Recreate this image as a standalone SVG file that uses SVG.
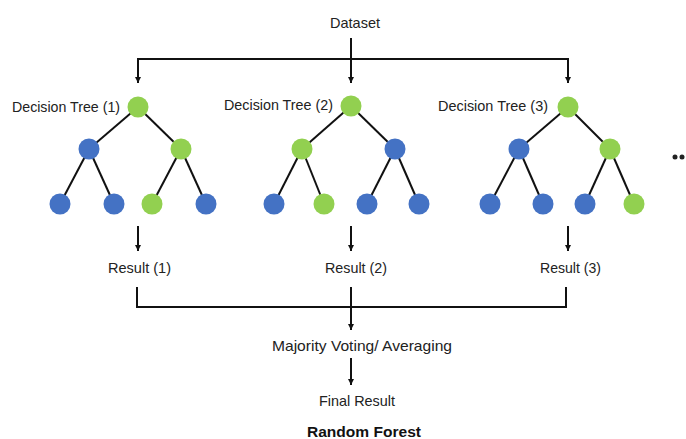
<svg xmlns="http://www.w3.org/2000/svg" width="686" height="439" viewBox="0 0 686 439">
<defs>
<marker id="ah" markerWidth="8" markerHeight="8" refX="6" refY="3" orient="auto" markerUnits="userSpaceOnUse">
<path d="M0,0 L6,3 L0,6 Z" fill="#111"/>
</marker>
<style>
text{font-family:"Liberation Sans",Arial,sans-serif;font-size:14.5px;fill:#222}
.b{font-weight:bold;font-size:14px;fill:#111}
.ln{stroke:#111;stroke-width:2;fill:none}
.e{stroke:#111;stroke-width:2}
.g{fill:#92d050}
.u{fill:#4472c4}
</style>
</defs>
<rect width="686" height="439" fill="#fff"/>
<g id="connectors">
<path class="ln" d="M351,38 V83" marker-end="url(#ah)"/>
<path class="ln" d="M138,83 V59 H568 V83" />
<path class="ln" d="M138,59 V83" marker-end="url(#ah)"/>
<path class="ln" d="M568,59 V83" marker-end="url(#ah)"/>
<path class="ln" d="M138,226 V251" marker-end="url(#ah)"/>
<path class="ln" d="M351,226 V251" marker-end="url(#ah)"/>
<path class="ln" d="M568,226 V251" marker-end="url(#ah)"/>
<path class="ln" d="M137,287 V307 H566 V287"/>
<path class="ln" d="M351,287 V330" marker-end="url(#ah)"/>
<path class="ln" d="M351,358 V385" marker-end="url(#ah)"/>
</g>
<g id="dataset"><text x="330" y="28" textLength="50" lengthAdjust="spacingAndGlyphs">Dataset</text></g>
<g id="tree1">
<text x="12" y="112" textLength="108" lengthAdjust="spacingAndGlyphs">Decision Tree (1)</text>
<g class="e"><line x1="138" y1="107" x2="89" y2="149"/><line x1="138" y1="107" x2="181" y2="149"/><line x1="89" y1="149" x2="60" y2="204"/><line x1="89" y1="149" x2="114" y2="204"/><line x1="181" y1="149" x2="152" y2="204"/><line x1="181" y1="149" x2="206" y2="204"/></g>
<circle class="g" cx="138" cy="107" r="10.5"/><circle class="u" cx="89" cy="149" r="10.5"/><circle class="g" cx="181" cy="149" r="10.5"/>
<circle class="u" cx="60" cy="204" r="10.5"/><circle class="u" cx="114" cy="204" r="10.5"/><circle class="g" cx="152" cy="204" r="10.5"/><circle class="u" cx="206" cy="204" r="10.5"/>
</g>
<g id="tree2">
<text x="224" y="110" textLength="109" lengthAdjust="spacingAndGlyphs">Decision Tree (2)</text>
<g class="e"><line x1="351" y1="106" x2="302" y2="149"/><line x1="351" y1="106" x2="395" y2="149"/><line x1="302" y1="149" x2="274" y2="204"/><line x1="302" y1="149" x2="324" y2="204"/><line x1="395" y1="149" x2="367" y2="204"/><line x1="395" y1="149" x2="419" y2="204"/></g>
<circle class="g" cx="351" cy="106" r="10.5"/><circle class="g" cx="302" cy="149" r="10.5"/><circle class="u" cx="395" cy="149" r="10.5"/>
<circle class="u" cx="274" cy="204" r="10.5"/><circle class="g" cx="324" cy="204" r="10.5"/><circle class="u" cx="367" cy="204" r="10.5"/><circle class="u" cx="419" cy="204" r="10.5"/>
</g>
<g id="tree3">
<text x="438" y="111" textLength="110" lengthAdjust="spacingAndGlyphs">Decision Tree (3)</text>
<g class="e"><line x1="568" y1="107" x2="519" y2="149"/><line x1="568" y1="107" x2="610" y2="149"/><line x1="519" y1="149" x2="490" y2="204"/><line x1="519" y1="149" x2="543" y2="204"/><line x1="610" y1="149" x2="585" y2="204"/><line x1="610" y1="149" x2="634" y2="204"/></g>
<circle class="g" cx="568" cy="107" r="10.5"/><circle class="u" cx="519" cy="149" r="10.5"/><circle class="g" cx="610" cy="149" r="10.5"/>
<circle class="u" cx="490" cy="204" r="10.5"/><circle class="u" cx="543" cy="204" r="10.5"/><circle class="u" cx="585" cy="204" r="10.5"/><circle class="g" cx="634" cy="204" r="10.5"/>
</g>
<g id="ellipsis"><circle cx="675" cy="157" r="2.5" fill="#222"/><circle cx="682" cy="157" r="2.5" fill="#222"/></g>
<g id="result1"><text x="108" y="273" textLength="63" lengthAdjust="spacingAndGlyphs">Result (1)</text></g>
<g id="result2"><text x="325" y="273" textLength="62" lengthAdjust="spacingAndGlyphs">Result (2)</text></g>
<g id="result3"><text x="540" y="273" textLength="61" lengthAdjust="spacingAndGlyphs">Result (3)</text></g>
<g id="voting"><text x="272" y="351" textLength="180" lengthAdjust="spacingAndGlyphs">Majority Voting/ Averaging</text></g>
<g id="final"><text x="319" y="406" textLength="76" lengthAdjust="spacingAndGlyphs">Final Result</text></g>
<g id="title"><text class="b" x="307" y="437" textLength="114" lengthAdjust="spacingAndGlyphs">Random Forest</text></g>
</svg>
